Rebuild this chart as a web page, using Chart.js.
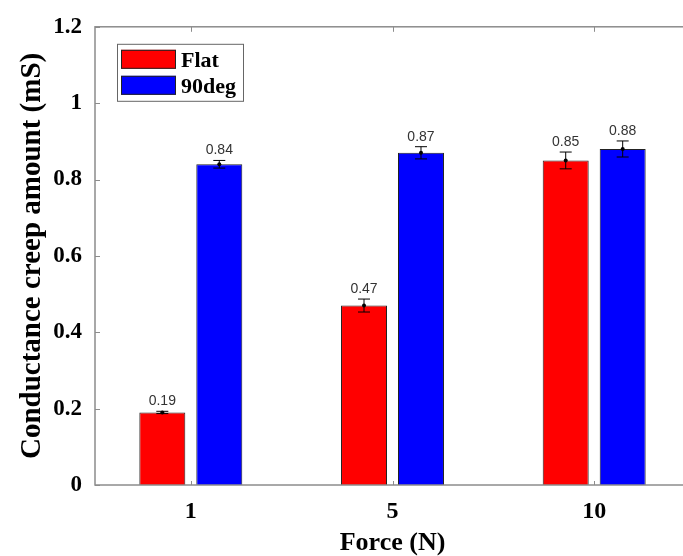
<!DOCTYPE html>
<html>
<head>
<meta charset="utf-8">
<script src="https://cdn.jsdelivr.net/npm/chart.js@4.4.0/dist/chart.umd.min.js"></script>
<style>
  html, body { margin: 0; padding: 0; overflow: hidden; background: #fff; }
</style>
</head>
<body>
<canvas id="creepChart" width="700" height="556"></canvas>
<script>
// data
const forces = ['1', '5', '10'];
const flatValues = [0.19, 0.47, 0.85];
const flatErrors = [0.003, 0.017, 0.022];
const deg90Values = [0.84, 0.87, 0.88];
const deg90Errors = [0.01, 0.016, 0.021];
const yTicks = [0, 0.2, 0.4, 0.6, 0.8, 1, 1.2];

const AXIS_GRAY = '#8c8c8c';
const SERIF = "'Liberation Serif', 'Times New Roman', serif";

const toPoints = (vals) => vals.map((v, i) => ({ x: i + 1, y: v }));

// box around the plot with small inward ticks (matlab style)
const framePlugin = {
    id: 'frame',
    afterDatasetsDraw(chart) {
        const { ctx, chartArea: a, scales: { x, y } } = chart;
        ctx.save();
        ctx.strokeStyle = AXIS_GRAY;
        ctx.lineWidth = 1.5;
        ctx.strokeRect(a.left, a.top, a.right - a.left, a.bottom - a.top);
        ctx.lineWidth = 1;
        ctx.beginPath();
        yTicks.forEach(v => {
            const py = Math.round(y.getPixelForValue(v)) + 0.5;
            ctx.moveTo(a.left, py);
            ctx.lineTo(a.left + 5, py);
        });
        forces.forEach((f, i) => {
            const px = Math.round(x.getPixelForValue(i + 1)) + 0.5;
            ctx.moveTo(px, a.bottom);
            ctx.lineTo(px, a.bottom - 4);
            ctx.moveTo(px, a.top);
            ctx.lineTo(px, a.top + 5);
        });
        ctx.stroke();
        ctx.restore();
    }
};

const errorBarPlugin = {
    id: 'errorBars',
    afterDatasetsDraw(chart) {
        const { ctx, scales: { y } } = chart;
        ctx.save();
        chart.data.datasets.forEach((ds, di) => {
            const meta = chart.getDatasetMeta(di);
            meta.data.forEach((bar, i) => {
                const v = ds.data[i].y;
                const e = ds.errors[i];
                const top = y.getPixelForValue(v + e);
                const bot = y.getPixelForValue(v - e);
                const cx = bar.x;

                ctx.strokeStyle = '#000';
                ctx.lineWidth = 1;
                ctx.beginPath();
                ctx.moveTo(cx, top); ctx.lineTo(cx, bot);
                ctx.moveTo(cx - 6, top); ctx.lineTo(cx + 6, top);
                ctx.moveTo(cx - 6, bot); ctx.lineTo(cx + 6, bot);
                ctx.stroke();

                ctx.fillStyle = '#000';
                ctx.beginPath();
                ctx.arc(cx, y.getPixelForValue(v), 2, 0, Math.PI * 2);
                ctx.fill();

                // value label above the error bar
                ctx.fillStyle = '#333';
                ctx.font = "14px 'Liberation Sans', Arial, sans-serif";
                ctx.textAlign = 'center';
                ctx.textBaseline = 'alphabetic';
                ctx.fillText(v.toFixed(2), cx, top - 6);
            });
        });
        ctx.restore();
    }
};

const legendBoxPlugin = {
    id: 'legendBox',
    afterDraw(chart) {
        const { ctx, chartArea: a } = chart;
        const left = a.left + 22, top = a.top + 17;
        ctx.save();
        ctx.fillStyle = '#fff';
        ctx.fillRect(left, top, 126, 57);
        ctx.strokeStyle = '#666';
        ctx.lineWidth = 1;
        ctx.strokeRect(left + 0.5, top + 0.5, 126, 57);
        chart.data.datasets.forEach((ds, i) => {
            const sy = top + 6 + i * 26;
            ctx.fillStyle = ds.backgroundColor;
            ctx.fillRect(left + 4, sy, 55, 19);
            ctx.strokeStyle = '#222';
            ctx.strokeRect(left + 4.5, sy + 0.5, 54, 18);
            ctx.fillStyle = '#000';
            ctx.font = 'bold 22px ' + SERIF;
            ctx.textAlign = 'left';
            ctx.textBaseline = 'alphabetic';
            ctx.fillText(ds.label, left + 64, sy + 17);
        });
        ctx.restore();
    }
};

const ctx = document.getElementById('creepChart').getContext('2d');
const chart = new Chart(ctx, {
    type: 'bar',
    data: {
        datasets: [
            {
                label: 'Flat',
                data: toPoints(flatValues),
                errors: flatErrors,
                backgroundColor: '#ff0000',
                borderColor: '#222',
                borderWidth: 1
            },
            {
                label: '90deg',
                data: toPoints(deg90Values),
                errors: deg90Errors,
                backgroundColor: '#0000ff',
                borderColor: '#222',
                borderWidth: 1
            }
        ]
    },
    options: {
        responsive: false,
        animation: false,
        categoryPercentage: 0.565,
        barPercentage: 0.807,
        layout: { padding: { top: 23, right: 10, left: 0, bottom: 0 } },
        plugins: {
            legend: { display: false },
            tooltip: { enabled: false }
        },
        scales: {
            x: {
                type: 'linear',
                bounds: 'data',
                offset: false,
                min: 0.525,
                max: 3.475,
                grid: { display: false, drawTicks: false },
                border: { display: false },
                afterBuildTicks: (scale) => {
                    scale.ticks = forces.map((f, i) => ({ value: i + 1 }));
                },
                afterFit: (scale) => { scale.height = 71; },
                ticks: {
                    padding: 12,
                    color: '#000',
                    font: { family: SERIF, size: 24, weight: 'bold' },
                    callback: (v) => forces[v - 1]
                },
                title: {
                    display: true,
                    text: 'Force (N)',
                    color: '#000',
                    padding: { top: 0, bottom: -3 },
                    font: { family: SERIF, size: 26, weight: 'bold' }
                }
            },
            y: {
                min: 0,
                max: 1.2,
                grid: { display: false, drawTicks: false },
                border: { display: false },
                afterBuildTicks: (scale) => {
                    scale.ticks = yTicks.map(v => ({ value: v }));
                },
                afterFit: (scale) => { scale.width = 95; },
                ticks: {
                    padding: 13,
                    color: '#000',
                    font: { family: SERIF, size: 23, weight: 'bold' },
                    callback: (v) => String(+v.toFixed(1))
                },
                title: {
                    display: true,
                    text: 'Conductance creep amount (mS)',
                    color: '#000',
                    padding: { top: 15, bottom: 0 },
                    font: { family: SERIF, size: 29, weight: 'bold' }
                }
            }
        }
    },
    plugins: [framePlugin, errorBarPlugin, legendBoxPlugin]
});
</script>
</body>
</html>
